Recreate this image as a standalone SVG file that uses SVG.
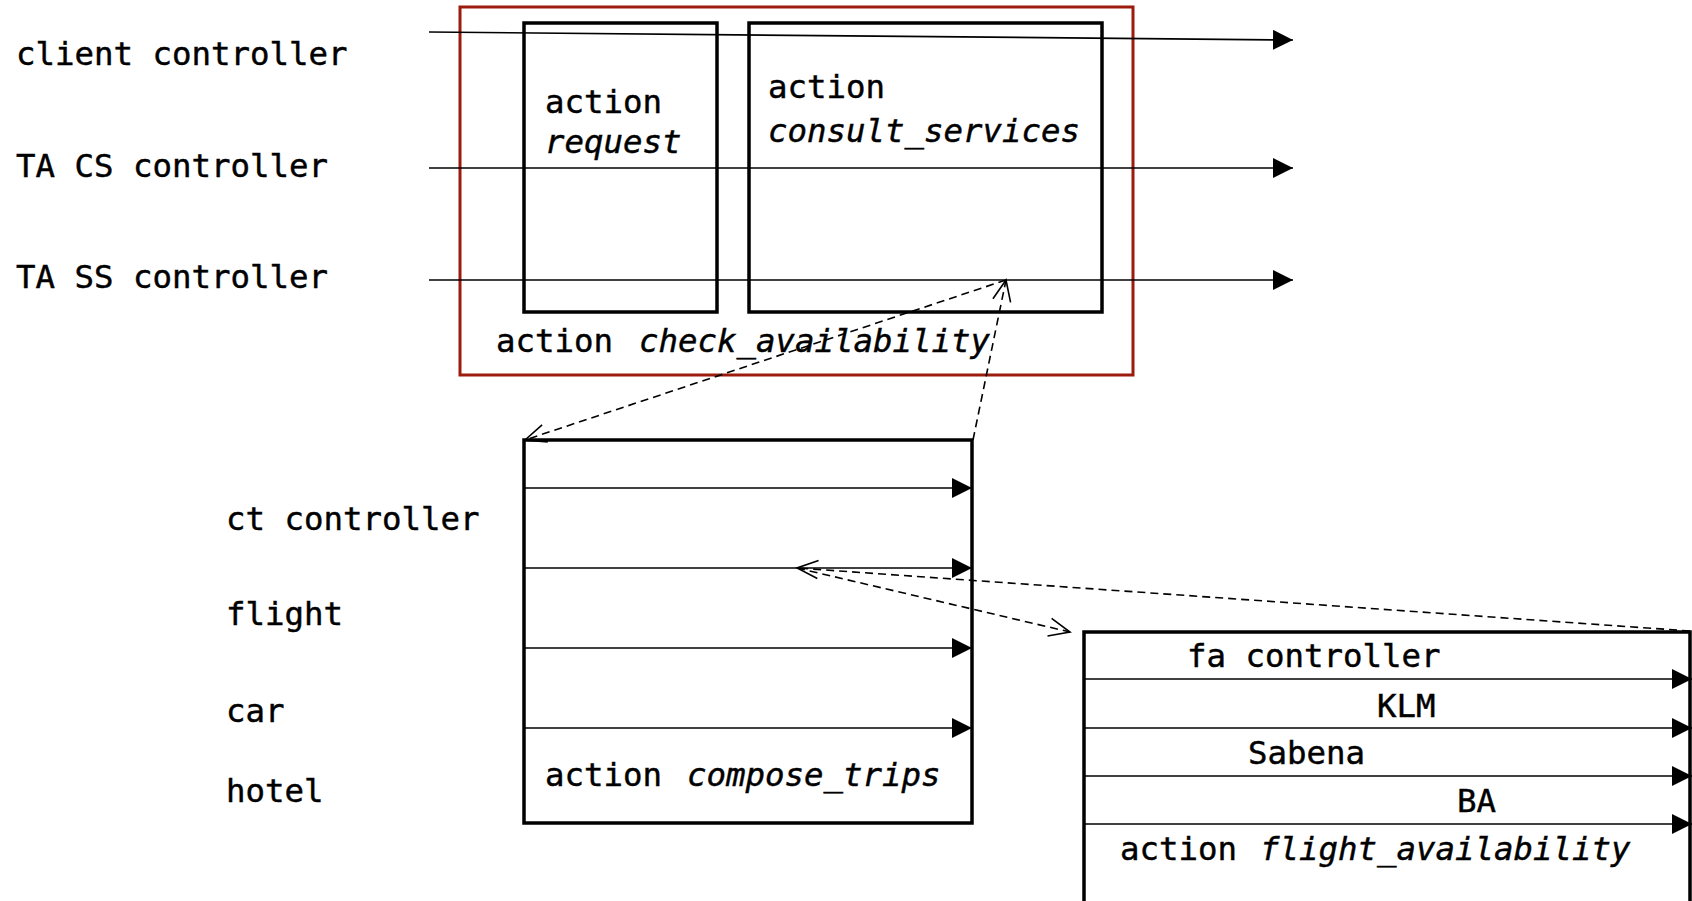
<svg xmlns="http://www.w3.org/2000/svg" width="1692" height="901" viewBox="0 0 1692 901">
  <style>
    text { font-family: "DejaVu Sans Mono", "Liberation Mono", monospace; font-size: 32.4px; fill: #000; stroke: #000; stroke-width: 0.45px; }
    .it { font-style: italic; }
    .box { fill: none; stroke: #000; stroke-width: 3.5; }
    .outer { fill: none; stroke: #9b1b0c; stroke-width: 3; }
    .flow { stroke: #000; stroke-width: 1.7; fill: none; marker-end: url(#solidHead); }
    .link { stroke: #000; stroke-width: 1.6; fill: none; stroke-dasharray: 8 5; marker-end: url(#openHead); }
  </style>
  <defs>
    <marker id="solidHead" markerUnits="userSpaceOnUse" markerWidth="20" markerHeight="20" refX="20" refY="10" orient="auto">
      <path d="M0,0 L20,10 L0,20 Z" fill="#000"/>
    </marker>
    <marker id="openHead" markerUnits="userSpaceOnUse" markerWidth="26" markerHeight="22" refX="23" refY="11" orient="auto">
      <path d="M2,2 L23,11 L2,20" fill="none" stroke="#000" stroke-width="1.6"/>
    </marker>
  </defs>

  <rect width="1692" height="901" fill="#fff"/>

  <!-- lifeline labels of the top level -->
  <g id="lbl-client"><text x="16" y="65">client controller</text></g>
  <g id="lbl-ta-cs"><text x="16" y="177">TA CS controller</text></g>
  <g id="lbl-ta-ss"><text x="16" y="288">TA SS controller</text></g>

  <!-- action check_availability (outer frame) -->
  <g id="check-availability">
    <rect class="outer" x="460" y="7" width="673" height="368"/>
    <text x="496" y="352">action <tspan class="it" x="639">check_availability</tspan></text>
  </g>

  <!-- action request -->
  <g id="request">
    <rect class="box" x="524" y="23" width="193" height="289"/>
    <text x="545" y="113">action</text>
    <text class="it" x="545" y="153">request</text>
  </g>

  <!-- action consult_services -->
  <g id="consult-services">
    <rect class="box" x="749" y="23" width="353" height="289"/>
    <text x="768" y="98">action</text>
    <text class="it" x="768" y="142">consult_services</text>
  </g>

  <!-- lifeline labels of compose_trips -->
  <g id="lbl-ct"><text x="226" y="530">ct controller</text></g>
  <g id="lbl-flight"><text x="226" y="625">flight</text></g>
  <g id="lbl-car"><text x="226" y="722">car</text></g>
  <g id="lbl-hotel"><text x="226" y="802">hotel</text></g>

  <!-- action compose_trips -->
  <g id="compose-trips">
    <rect class="box" x="524" y="440" width="448" height="383"/>
    <text x="545" y="786">action <tspan class="it" x="687">compose_trips</tspan></text>
  </g>

  <!-- action flight_availability -->
  <g id="flight-availability">
    <rect class="box" x="1084" y="632" width="606" height="300"/>
    <text x="1187" y="667">fa controller</text>
    <text x="1377" y="717">KLM</text>
    <text x="1248" y="764">Sabena</text>
    <text x="1457" y="812">BA</text>
    <text x="1120" y="860">action <tspan class="it" x="1260">flight_availability</tspan></text>
  </g>

  <g id="connectors">
    <!-- top-level lifelines -->
    <line class="flow" x1="429" y1="32" x2="1293" y2="40"/>
    <line class="flow" x1="429" y1="168" x2="1293" y2="168"/>
    <line class="flow" x1="429" y1="280" x2="1293" y2="280"/>

    <!-- compose_trips lifelines -->
    <line class="flow" x1="524" y1="488" x2="972" y2="488"/>
    <line class="flow" x1="524" y1="568" x2="972" y2="568"/>
    <line class="flow" x1="524" y1="648" x2="972" y2="648"/>
    <line class="flow" x1="524" y1="728" x2="972" y2="728"/>

    <!-- flight_availability lifelines -->
    <line class="flow" x1="1084" y1="679" x2="1692" y2="679"/>
    <line class="flow" x1="1084" y1="728" x2="1692" y2="728"/>
    <line class="flow" x1="1084" y1="776" x2="1692" y2="776"/>
    <line class="flow" x1="1084" y1="824" x2="1692" y2="824"/>

    <!-- refinement links -->
    <line class="link" x1="1006" y1="280" x2="525" y2="440"/>
    <line class="link" x1="973" y1="440" x2="1006" y2="280"/>
    <line class="link" x1="797" y1="568" x2="1070" y2="632"/>
    <line class="link" x1="1690" y1="631" x2="797" y2="568"/>
  </g>
</svg>
